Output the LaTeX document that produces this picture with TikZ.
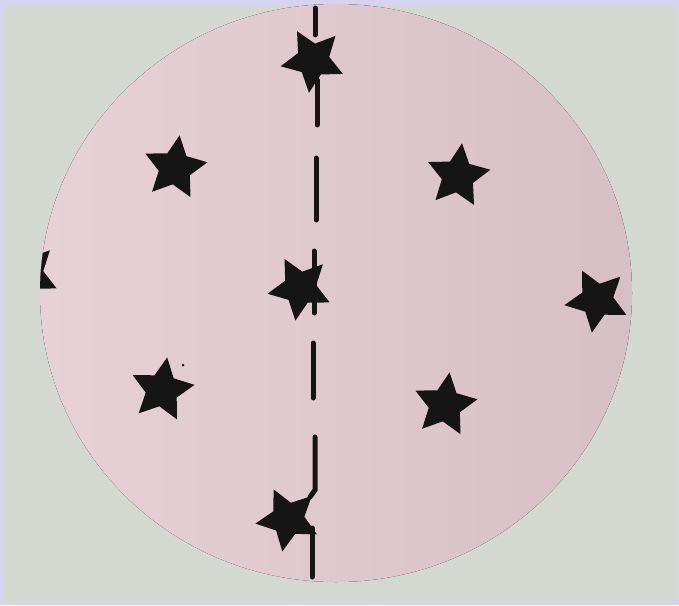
\documentclass[tikz,border=0pt]{standalone}
\usetikzlibrary{shapes.geometric}
\definecolor{frame}{HTML}{D4D4F2}
\definecolor{paper}{HTML}{D3D8D1}
\definecolor{pinkA}{HTML}{E8D1D6}
\definecolor{pinkB}{HTML}{D6BFC5}
\definecolor{ink}{HTML}{151515}
\tikzset{
  starmark/.style={star, star points=5, star point ratio=2.0, fill=ink, draw=none,
    inner sep=0pt, minimum size=66pt},
  dashseg/.style={draw=ink, line width=5pt, line cap=round}
}
\begin{document}
\begin{tikzpicture}[x=1pt,y=-1pt]
\useasboundingbox (0,0) rectangle (679,605);
\fill[frame] (0,0) rectangle (679,605);
\fill[paper] (3,5) rectangle (677,603);
\fill[left color=pinkA, right color=pinkB] (336,293) ellipse [x radius=296, y radius=289];
% dashed fold line
\draw[dashseg] (315,8) -- (315,35);
\draw[dashseg] (317,80) -- (317,125);
\draw[dashseg] (316,158) -- (316,220);
\draw[dashseg] (314,251) -- (314,313);
\draw[dashseg] (313,343) -- (313,398);
\draw[dashseg] (315,437) -- (315,490) -- (310,497);
\draw[dashseg] (312,528) -- (312,577);
\begin{scope}
\clip (336,293) ellipse [x radius=296, y radius=289];
\node[starmark, rotate=29] (s1) at (313,60) {};
\node[starmark, rotate=-8] (s2) at (175,168) {};
\node[starmark, rotate=-7] (s3) at (458,176) {};
\node[starmark, rotate=27] (s4) at (597,300) {};
\node[starmark, rotate=28] (s5) at (300,288) {};
\node[starmark, rotate=-9] (s6) at (162,390) {};
\node[starmark, rotate=-8] (s7) at (445,405) {};
\node[starmark, rotate=26] (s8) at (288,519) {};
\node[starmark, rotate=28] (s9) at (27,274) {};
\end{scope}
\fill[ink] (183,365) circle (1.5);
\end{tikzpicture}
\end{document}
